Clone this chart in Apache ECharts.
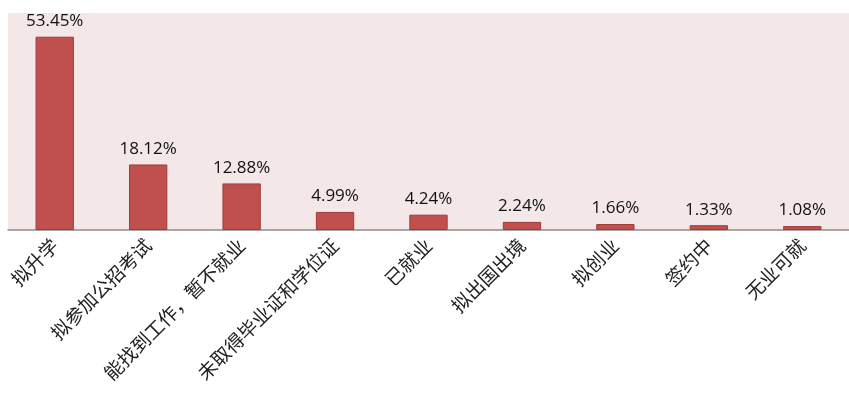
<!DOCTYPE html>
<html><head><meta charset="utf-8">
<script src="https://cdn.jsdelivr.net/npm/echarts@6/dist/echarts.min.js"></script>
<style>html,body{margin:0;padding:0;background:#fff}#c{width:849px;height:406px}</style>
</head><body><div id="c"></div>
<script>
var categories = ['拟升学', '拟参加公招考试', '能找到工作，暂不就业', '未取得毕业证和学位证', '已就业', '拟出国出境', '拟创业', '签约中', '无业可就'];
var values = [53.45, 18.12, 12.88, 4.99, 4.24, 2.24, 1.66, 1.33, 1.08];

var chart = echarts.init(document.getElementById('c'));
chart.setOption({
  animation: false,
  grid: { left: 8, right: 0, top: 13, bottom: 176, show: true, backgroundColor: '#F3E7E7', borderWidth: 0 },
  xAxis: {
    type: 'category', data: categories,
    axisLine: { lineStyle: { color: '#8c8c8c', width: 1.5 } },
    axisTick: { show: false },
    axisLabel: { rotate: 45, interval: 0, fontSize: 19, color: '#222', margin: 12, fontFamily: 'Noto Sans CJK SC' }
  },
  yAxis: { type: 'value', min: 0, max: 60, show: false, splitLine: { show: false } },
  series: [{
    type: 'bar', data: values, barWidth: '41%',
    itemStyle: { color: '#C0504D', borderColor: '#9E3B38', borderWidth: 1 },
    label: { show: true, position: 'top', distance: 7, fontSize: 17, color: '#111', fontFamily: 'Open Sans',
      formatter: function (p) { return p.value.toFixed(2) + '%'; } }
  }]
});
</script></body></html>
